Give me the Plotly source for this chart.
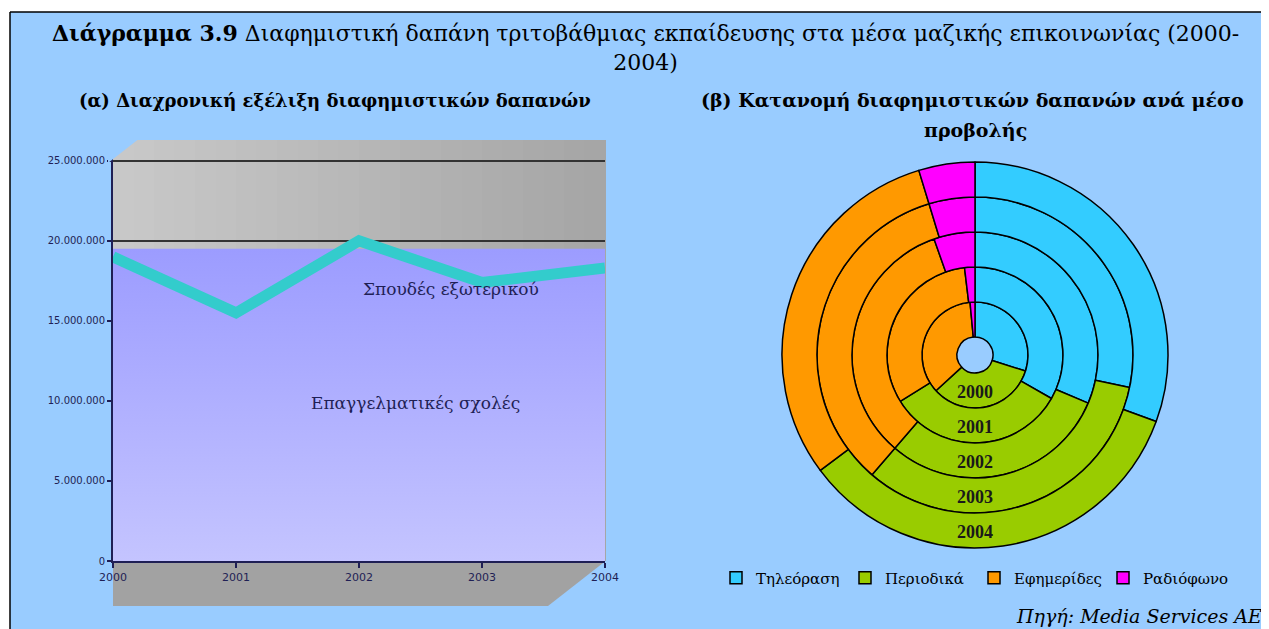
import plotly.graph_objects as go

# the page puts the figure 8px in from the top-left corner, so work in
# screen pixels and shift by that offset
OFF = 8
W, H = 1269 - OFF, 629 - OFF

# ------------------------------------------------------------------
# DATA
# ------------------------------------------------------------------
years = [2000, 2001, 2002, 2003, 2004]

# (α) advertising spend, euro
epaggelmatikes_sxoles = [19500000, 19500000, 19500000, 19500000, 19500000]
spoudes_exoterikou = [19000000, 15500000, 20000000, 17400000, 18300000]
y_ticks = [0, 5000000, 10000000, 15000000, 20000000, 25000000]

# (β) share per medium, %, one ring per year (2000 inner -> 2004 outer)
media = ["Τηλεόραση", "Περιοδικά", "Εφημερίδες", "Ραδιόφωνο"]
shares = {
    2000: [29.9, 33.3, 35.3, 1.5],
    2001: [33.2, 32.9, 31.9, 1.9],
    2002: [31.4, 29.9, 33.3, 5.4],
    2003: [28.3, 33.0, 34.0, 4.7],
    2004: [30.6, 34.2, 30.5, 4.7],
}

# ------------------------------------------------------------------
# STYLE
# ------------------------------------------------------------------
bg_blue = "#99ccff"
navy = "#1f1f55"
serif = "DejaVu Serif, Liberation Serif, serif"
times = "Liberation Serif, Times New Roman, serif"
media_colors = ["#33ccff", "#99cc00", "#ff9900", "#ff00ff"]

# donut geometry (screen px)
cx, cy = 975, 355
ring_edges = [18, 53, 88, 123, 158, 193]


def px_x(x):
    return (x - OFF) / W


def px_y(y):
    return 1 - (y - OFF) / H


def px_path(points):
    return "M " + " L ".join(f"{px_x(x)},{px_y(y)}" for x, y in points) + " Z"


fig = go.Figure()

# --- (α) area + line --------------------------------------------------
fig.add_trace(go.Scatter(
    x=years, y=epaggelmatikes_sxoles,
    mode="lines", line=dict(width=0),
    fill="tozeroy",
    fillgradient=dict(type="vertical",
                      colorscale=[[0, "#c4c4ff"], [1, "#9c9cff"]]),
    showlegend=False, hoverinfo="x+y",
    name="Επαγγελματικές σχολές",
))
fig.add_trace(go.Scatter(
    x=years, y=spoudes_exoterikou,
    mode="lines", line=dict(width=11, color="#33cccc"),
    showlegend=False, name="Σπουδές εξωτερικού",
))

# --- (β) nested donut, one pie per year -------------------------------
for i, yr in enumerate(years):
    r_in, r_out = ring_edges[i], ring_edges[i + 1]
    fig.add_trace(go.Pie(
        labels=media, values=shares[yr],
        sort=False, direction="clockwise", rotation=0,
        hole=r_in / r_out,
        marker=dict(colors=media_colors, line=dict(color="black", width=1.5)),
        textinfo="none",
        domain=dict(x=[px_x(cx - r_out), px_x(cx + r_out)],
                    y=[px_y(cy + r_out), px_y(cy - r_out)]),
        name=str(yr),
        showlegend=True,
    ))

# ------------------------------------------------------------------
# LAYOUT
# ------------------------------------------------------------------
annotations = [
    dict(text="<b>Διάγραμμα 3.9</b> Διαφημιστική δαπάνη τριτοβάθμιας εκπαίδευσης "
              "στα μέσα μαζικής επικοινωνίας (2000-<br>2004)",
         x=px_x(645), y=px_y(47), font=dict(size=22)),
    dict(text="<b>(α) Διαχρονική εξέλιξη διαφημιστικών δαπανών</b>",
         x=px_x(335), y=px_y(100), font=dict(size=18)),
    dict(text="<b>(β) Κατανομή διαφημιστικών δαπανών ανά μέσο</b>",
         x=px_x(973), y=px_y(100), font=dict(size=19)),
    dict(text="<b>προβολής</b>",
         x=px_x(975), y=px_y(130), font=dict(size=19)),
    dict(text="<i>Πηγή: Media Services AE</i>",
         x=px_x(1264), y=px_y(616), xanchor="right", font=dict(size=19)),
]
for a in annotations:
    a.update(xref="paper", yref="paper", showarrow=False)
    a.setdefault("xanchor", "center")
    a["yanchor"] = "middle"
    a["font"].update(family=serif, color="black")

# series labels inside the area chart
annotations += [
    dict(text="Σπουδές εξωτερικού", x=2002.75, y=17000000, xref="x", yref="y",
         showarrow=False, font=dict(family=serif, size=17, color=navy)),
    dict(text="Επαγγελματικές σχολές", x=2002.46, y=9900000, xref="x", yref="y",
         showarrow=False, font=dict(family=serif, size=17, color=navy)),
]

# year labels on the rings
for i, yr in enumerate(years):
    r_mid = (ring_edges[i] + ring_edges[i + 1]) / 2
    annotations.append(dict(
        text=f"<b>{yr}</b>", x=px_x(cx), y=px_y(cy + r_mid + 1.5),
        xref="paper", yref="paper", showarrow=False,
        xanchor="center", yanchor="middle",
        font=dict(family=times, size=18, color="#1a1a1a"),
    ))

shapes = [
    # white strips outside the frame + the frame lines
    dict(type="rect", xref="paper", yref="paper",
         x0=0, x1=1, y0=px_y(12), y1=1,
         fillcolor="white", line=dict(width=0), layer="below"),
    dict(type="rect", xref="paper", yref="paper",
         x0=0, x1=px_x(10), y0=0, y1=1,
         fillcolor="white", line=dict(width=0), layer="below"),
    dict(type="line", xref="paper", yref="paper",
         x0=px_x(10), x1=1, y0=px_y(12), y1=px_y(12),
         line=dict(color="black", width=1.5), layer="above"),
    dict(type="line", xref="paper", yref="paper",
         x0=px_x(10), x1=px_x(10), y0=0, y1=px_y(12),
         line=dict(color="black", width=1.5), layer="above"),
    # 3d floor of the area chart
    dict(type="path", xref="paper", yref="paper",
         path=px_path([(113, 563), (603, 563), (548, 606), (113, 606)]),
         fillcolor="#a2a2a2", line=dict(width=0), layer="below"),
]

# back wall: light grey on the left, darker to the right
n_steps = 24
for k in range(n_steps):
    t = k / (n_steps - 1)
    g = int(round(200 - 34 * t))
    shapes.append(dict(
        type="rect", xref="x domain", yref="y domain",
        x0=k / n_steps, x1=(k + 1) / n_steps + 0.002, y0=0, y1=1,
        fillcolor=f"rgb({g},{g},{g})", line=dict(width=0), layer="below",
    ))

# cut the top-left corner of the wall
shapes.append(dict(type="path", xref="paper", yref="paper",
                   path=px_path([(108, 138), (140, 138), (108, 163)]),
                   fillcolor=bg_blue, line=dict(width=0), layer="above"))

fig.update_layout(
    width=W, height=H,
    margin=dict(l=0, r=0, t=0, b=0),
    paper_bgcolor=bg_blue,
    plot_bgcolor="#bcbcbc",
    separators=",.",
    annotations=annotations,
    shapes=shapes,
    xaxis=dict(
        domain=[px_x(113), px_x(605)], range=[2000, 2004], automargin=False,
        tickvals=years, ticks="outside", ticklen=5, tickwidth=1.5,
        tickcolor=navy, showline=True, linecolor=navy, linewidth=2,
        showgrid=False, zeroline=False,
        tickfont=dict(family="DejaVu Sans", size=11, color=navy),
    ),
    yaxis=dict(
        domain=[px_y(561), px_y(140)], range=[0, 26300000], automargin=False,
        tickvals=y_ticks, tickformat=",d",
        ticks="outside", ticklen=4, tickwidth=1.5, tickcolor=navy,
        showline=True, linecolor=navy, linewidth=2,
        showgrid=True, gridcolor="#333333", gridwidth=1.5, zeroline=False,
        tickfont=dict(family="DejaVu Sans", size=10, color=navy),
    ),
    legend=dict(
        orientation="h", x=px_x(716), y=px_y(578),
        xanchor="left", yanchor="middle",
        bgcolor="rgba(0,0,0,0)", itemwidth=30,
        entrywidth=84, entrywidthmode="pixels",
        font=dict(family=serif, size=15, color="black"),
    ),
)

fig.write_html("out.html")
